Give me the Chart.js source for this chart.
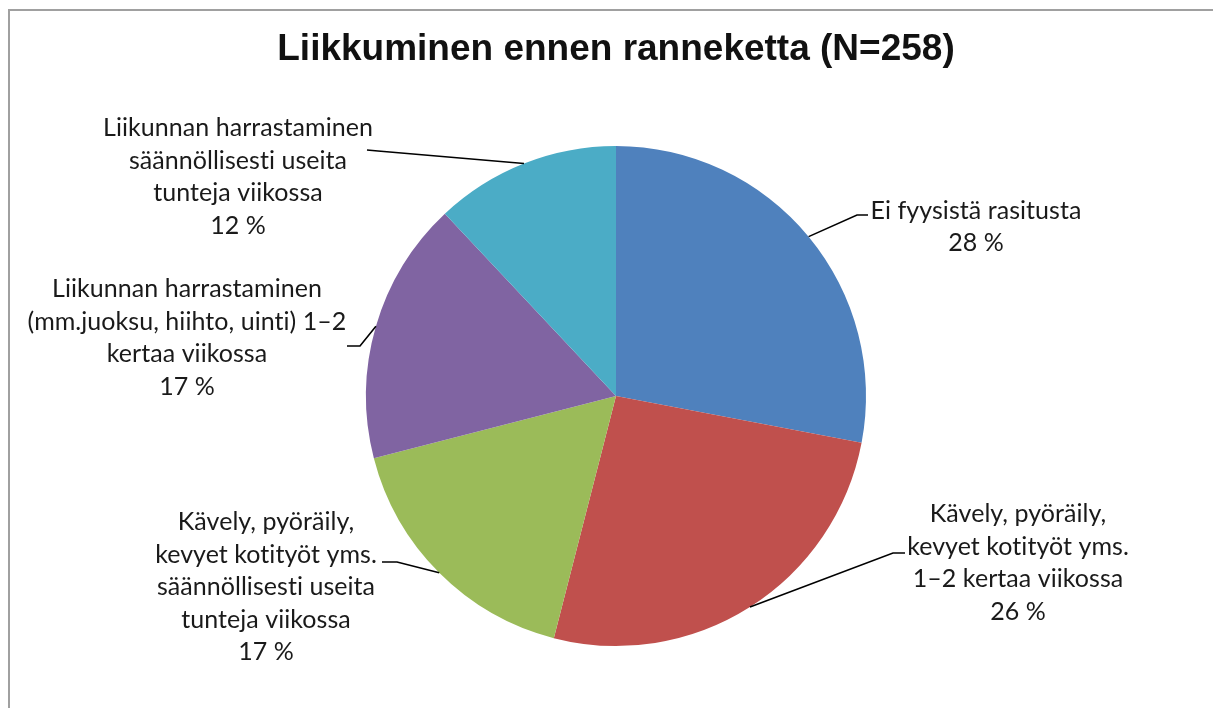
<!DOCTYPE html>
<html><head><meta charset="utf-8">
<script src="https://cdn.jsdelivr.net/npm/chart.js@4.4.0/dist/chart.umd.min.js"></script>
<style>html,body{margin:0;padding:0;background:#fff;overflow:hidden;}</style>
</head><body>
<canvas id="c" width="1213" height="708"></canvas>
<script>
// ---- data ----
const chartTitle = 'Liikkuminen ennen ranneketta (N=258)';
const categories = [
  ['Ei fyysistä rasitusta'],
  ['Kävely, pyöräily,', 'kevyet kotityöt yms.', '1–2 kertaa viikossa'],
  ['Kävely, pyöräily,', 'kevyet kotityöt yms.', 'säännöllisesti useita', 'tunteja viikossa'],
  ['Liikunnan harrastaminen', '(mm.juoksu, hiihto, uinti) 1–2', 'kertaa viikossa'],
  ['Liikunnan harrastaminen', 'säännöllisesti useita', 'tunteja viikossa']
];
const values = [28, 26, 17, 17, 12];
const colors = ['#4F81BD', '#C0504D', '#9BBB59', '#8064A2', '#4BACC6'];

// ---- label layout (relative to pie centre, px) ----
const labelCentres = [[360, -169], [402, 167], [-350, 191], [-429, -58], [-378, -219]];
const leaderEnds   = [[252, -181], [289, 157], [-234, 166], [-269, -50], [-249, -246]];
const leaderElbows = [[241, -181], [277, 157], [-219, 166], [-256, -50], [-238, -245]];

const labelFont = '25px Lato';
const lineH = 32.5;

const decor = {
  id: 'decor',
  beforeDraw(chart) {
    const ctx = chart.ctx;
    ctx.save();
    ctx.fillStyle = '#fff';
    ctx.fillRect(0, 0, chart.width, chart.height);
    ctx.strokeStyle = '#a0a0a0';
    ctx.lineWidth = 2;
    ctx.beginPath();
    ctx.moveTo(9, chart.height);
    ctx.lineTo(9, 10);
    ctx.lineTo(chart.width, 10);
    ctx.stroke();
    ctx.restore();
  },
  afterDraw(chart) {
    const ctx = chart.ctx;
    const arcs = chart.getDatasetMeta(0).data;
    ctx.save();
    arcs.forEach((arc, i) => {
      const p = arc.getProps(['x', 'y', 'startAngle', 'endAngle', 'outerRadius'], true);
      const mid = (p.startAngle + p.endAngle) / 2;
      const ax = p.x + Math.cos(mid) * p.outerRadius;
      const ay = p.y + Math.sin(mid) * p.outerRadius;
      ctx.strokeStyle = '#000';
      ctx.lineWidth = 1.6;
      ctx.beginPath();
      ctx.moveTo(ax, ay);
      ctx.lineTo(p.x + leaderElbows[i][0], p.y + leaderElbows[i][1]);
      ctx.lineTo(p.x + leaderEnds[i][0], p.y + leaderEnds[i][1]);
      ctx.stroke();

      const lines = categories[i].concat([values[i] + ' %']);
      ctx.font = labelFont;
      if ('letterSpacing' in ctx) ctx.letterSpacing = '0.05px';
      if ('textRendering' in ctx) ctx.textRendering = 'optimizeSpeed';
      ctx.fillStyle = '#1a1a1a';
      ctx.textAlign = 'center';
      ctx.textBaseline = 'middle';
      const cx = p.x + labelCentres[i][0];
      const cy = p.y + labelCentres[i][1];
      const top = cy - (lines.length - 1) * lineH / 2;
      lines.forEach((t, k) => ctx.fillText(t, cx, top + k * lineH));
    });
    ctx.restore();
  }
};

new Chart(document.getElementById('c'), {
  type: 'pie',
  data: {
    labels: categories.map(c => c.join(' ')),
    datasets: [{
      data: values,
      backgroundColor: colors,
      borderWidth: 0,
      hoverOffset: 0,
      offset: 0
    }]
  },
  options: {
    responsive: false,
    animation: false,
    events: [],
    layout: { padding: { top: 0, bottom: 62, left: 19, right: 0 } },
    plugins: {
      legend: { display: false },
      tooltip: { enabled: false },
      title: {
        display: true,
        text: chartTitle,
        color: '#111',
        font: { family: 'Liberation Sans', size: 37, weight: 'bold', lineHeight: 1.2 },
        padding: { top: 28, bottom: 73.6 }
      }
    }
  },
  plugins: [decor]
});
</script>
</body></html>
